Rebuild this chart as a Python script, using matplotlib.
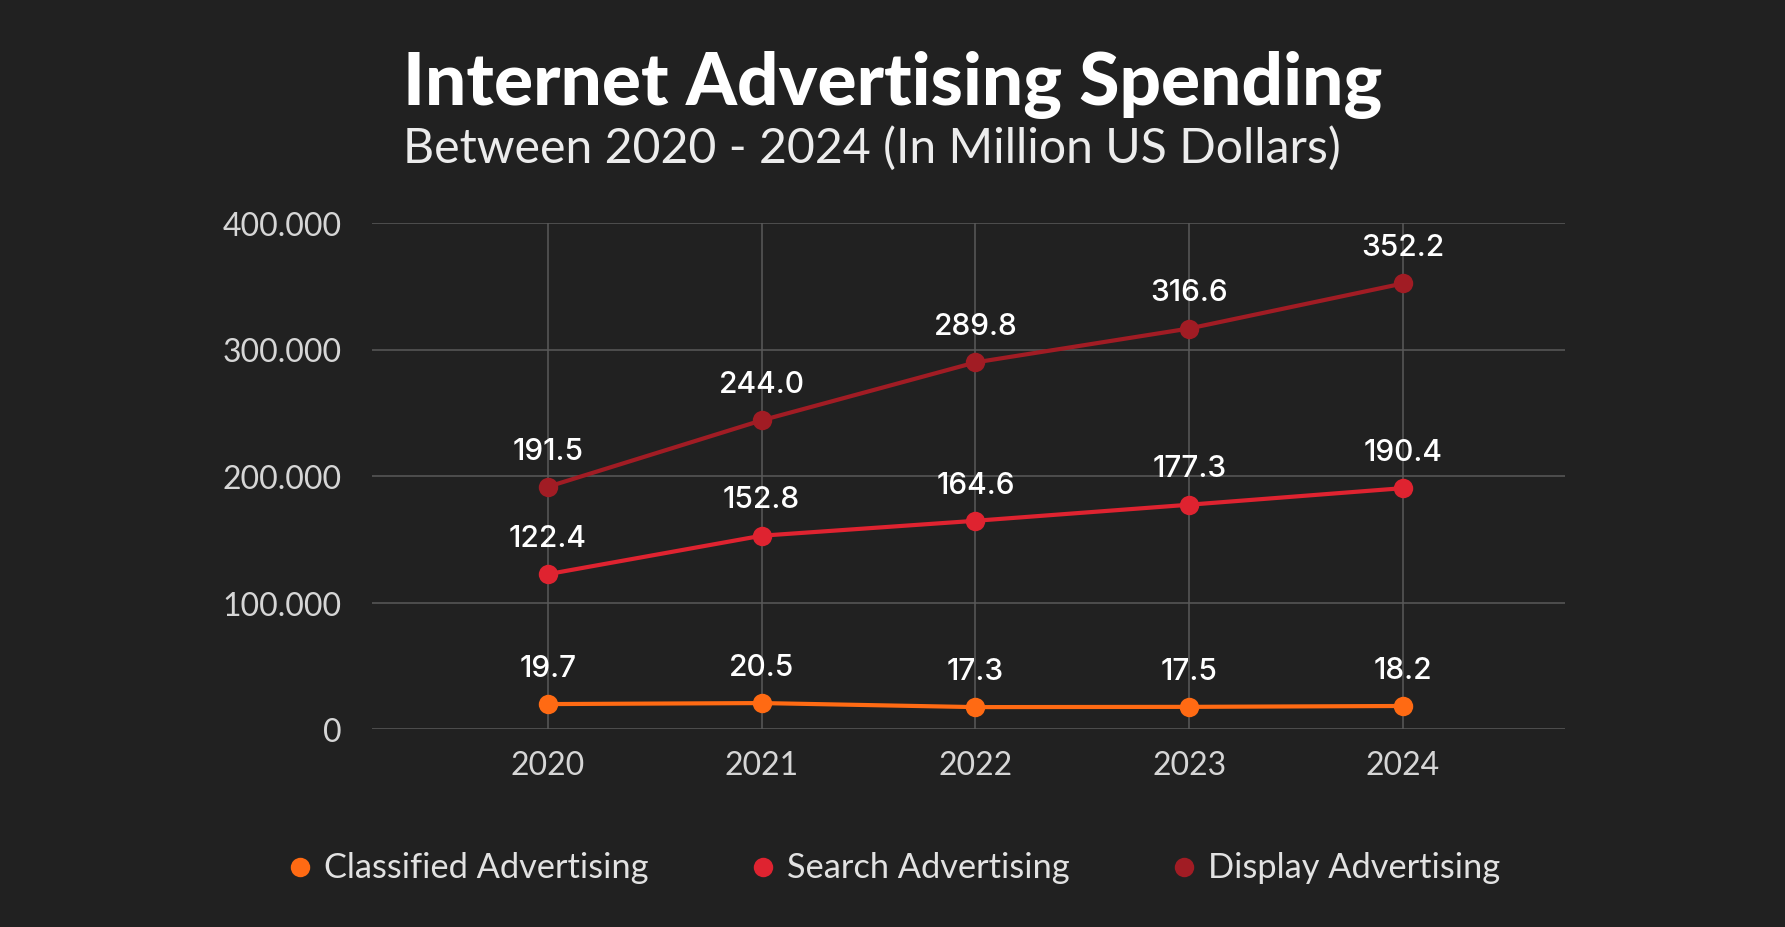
import matplotlib
matplotlib.use("Agg")
import matplotlib.pyplot as plt
from matplotlib.lines import Line2D
import numpy as np

years = [2020, 2021, 2022, 2023, 2024]
classified = [19.7, 20.5, 17.3, 17.5, 18.2]
search = [122.4, 152.8, 164.6, 177.3, 190.4]
display = [191.5, 244.0, 289.8, 316.6, 352.2]
series_names = ["Classified Advertising", "Search Advertising", "Display Advertising"]
yticks = [0, 100, 200, 300, 400]
ytick_labels = ["0", "100.000", "200.000", "300.000", "400.000"]

colors = ["#FF6A13", "#DF2330", "#A11C24"]
BG = "#212121"

fig = plt.figure(figsize=(17.85, 9.28), dpi=100, facecolor=BG)
W, H = 1785, 928

# Axes placement (pixels): x 372..1565, y 224..730
ax = fig.add_axes([372 / W, 1 - 730 / H, (1565 - 372) / W, (730 - 224) / H])
ax.set_facecolor("none")
ax.set_xlim(2019.177, 2024.758)
ax.set_ylim(0, 400)

for s in ax.spines.values():
    s.set_visible(False)

grid_c = "#5a5a5a"
ax.set_yticks(yticks)
ax.set_yticklabels(ytick_labels)
ax.set_xticks(years)
ax.set_xticklabels([str(y) for y in years])
ax.grid(True, color=grid_c, linewidth=1.1, zorder=0)
ax.tick_params(axis="both", length=0, colors="#d6d6d6", labelsize=23)
ax.tick_params(axis="y", pad=22)
ax.tick_params(axis="x", pad=15)
for lab in ax.get_xticklabels() + ax.get_yticklabels():
    lab.set_fontfamily("Lato")
    lab.set_fontweight("normal")

for vals, c in zip([classified, search, display], colors):
    ax.plot(years, vals, color=c, linewidth=3.0, marker="o", markersize=14,
            markeredgewidth=0, zorder=3, clip_on=False)
    for x, v in zip(years, vals):
        ax.annotate(f"{v:.1f}", (x, v), xytext=(0, 16), textcoords="offset points",
                    ha="center", va="bottom", color="white", fontsize=21.5,
                    fontfamily="Inter", fontweight="medium", zorder=4)

# Titles
renderer = fig.canvas.get_renderer()

def fit_text(x, y, s, target_w, **kw):
    t = fig.text(x, y, s, **kw)
    fs = kw.get("fontsize", 20)
    for _ in range(4):
        bb = t.get_window_extent(renderer=renderer)
        fs *= target_w / bb.width
        t.set_fontsize(fs)
    return t

fit_text(403 / W, 1 - 105 / H, "Internet Advertising Spending", 980,
         color="white", fontsize=44, fontfamily="Lato", fontweight="black",
         ha="left", va="baseline")
fit_text(403 / W, 1 - 163 / H, "Between 2020 - 2024 (In Million US Dollars)", 938,
         color="#ececec", fontsize=32, fontfamily="Lato", fontweight="normal",
         ha="left", va="baseline")

# Legend (manual placement)
leg_y = 1 - 868 / H
marker_x = [300, 763, 1184]
leg_fs = None
for name, c, mx in zip(series_names, colors, marker_x):
    fig.add_artist(Line2D([mx / W], [leg_y], transform=fig.transFigure,
                          linestyle="none", marker="o", markersize=14,
                          markerfacecolor=c, markeredgewidth=0))
    kw = dict(color="#e2e2e2", fontfamily="Lato", fontweight="normal",
              ha="left", va="center")
    if leg_fs is None:
        t = fit_text((mx + 24) / W, leg_y, name, 325, fontsize=24, **kw)
        leg_fs = t.get_fontsize()
    else:
        fig.text((mx + 24) / W, leg_y, name, fontsize=leg_fs, **kw)

fig.savefig("out.png", dpi=100, facecolor=BG)
